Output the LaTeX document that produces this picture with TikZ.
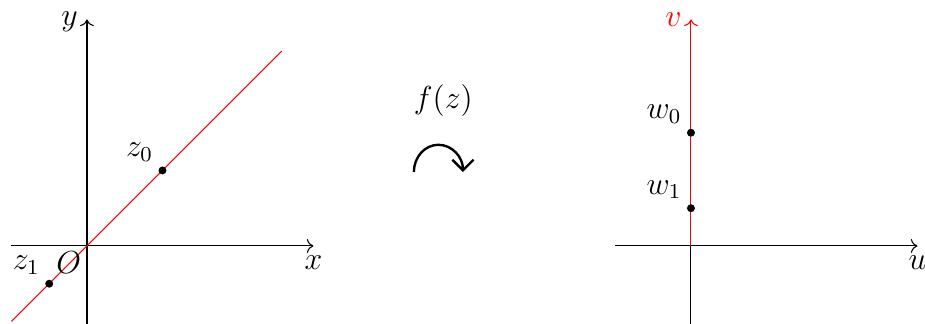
\documentclass[tikz,border=0pt]{standalone}
\usetikzlibrary{arrows.meta}
\begin{document}
\begin{tikzpicture}[
  font=\large,
  dotmark/.style={circle,fill=black,inner sep=0pt,minimum size=3pt},
  axisline/.style={->}
]
\useasboundingbox (-1.152,-1.033) rectangle (11.1,3.258);
% left plane
\coordinate (Lxa) at (-1,0);
\coordinate (Lxb) at (3,0);
\coordinate (Lya) at (0,-1.03);
\coordinate (Lyb) at (0,3);
\coordinate (O) at (0,0);
\draw[axisline] (Lxa) -- (Lxb) node[below] (xl) {$x$};
\draw[axisline] (Lya) -- (Lyb) node[left,yshift=-1pt] (yl) {$y$};
\coordinate (Ra) at (-1.0,-1.0);
\coordinate (Rb) at (2.58,2.58);
\draw[red] (Ra) -- (Rb);
\node[below left,inner sep=2pt] (Ol) at (O) {$O$};
\node[dotmark] (z0) at (1,1) {};
\node[above left] (z0l) at (z0) {$z_0$};
\node[dotmark] (z1) at (-0.5,-0.5) {};
\node[above left] (z1l) at (z1) {$z_1$};
% middle
\node (f) at (4.72,1.93) {$f(z)$};
\coordinate (arcs) at (4.33,0.98);
\draw[-{Straight Barb[length=4pt,width=8pt]},line width=0.9pt] (arcs) arc[start angle=180,end angle=0,x radius=0.325,y radius=0.36];
% right plane
\coordinate (Uxa) at (7,0);
\coordinate (Uxb) at (11,0);
\coordinate (Vya) at (8,-1.03);
\coordinate (Vyb) at (8,3);
\coordinate (O2) at (8,0);
\draw[axisline] (Uxa) -- (Uxb) node[below] (ul) {$u$};
\draw (Vya) -- (O2);
\draw[axisline,red] (O2) -- (Vyb) node[left] (vl) {$v$};
\node[dotmark] (w0) at (8,1.5) {};
\node[above left] (w0l) at (w0) {$w_0$};
\node[dotmark] (w1) at (8,0.5) {};
\node[above left] (w1l) at (w1) {$w_1$};
\end{tikzpicture}
\end{document}
